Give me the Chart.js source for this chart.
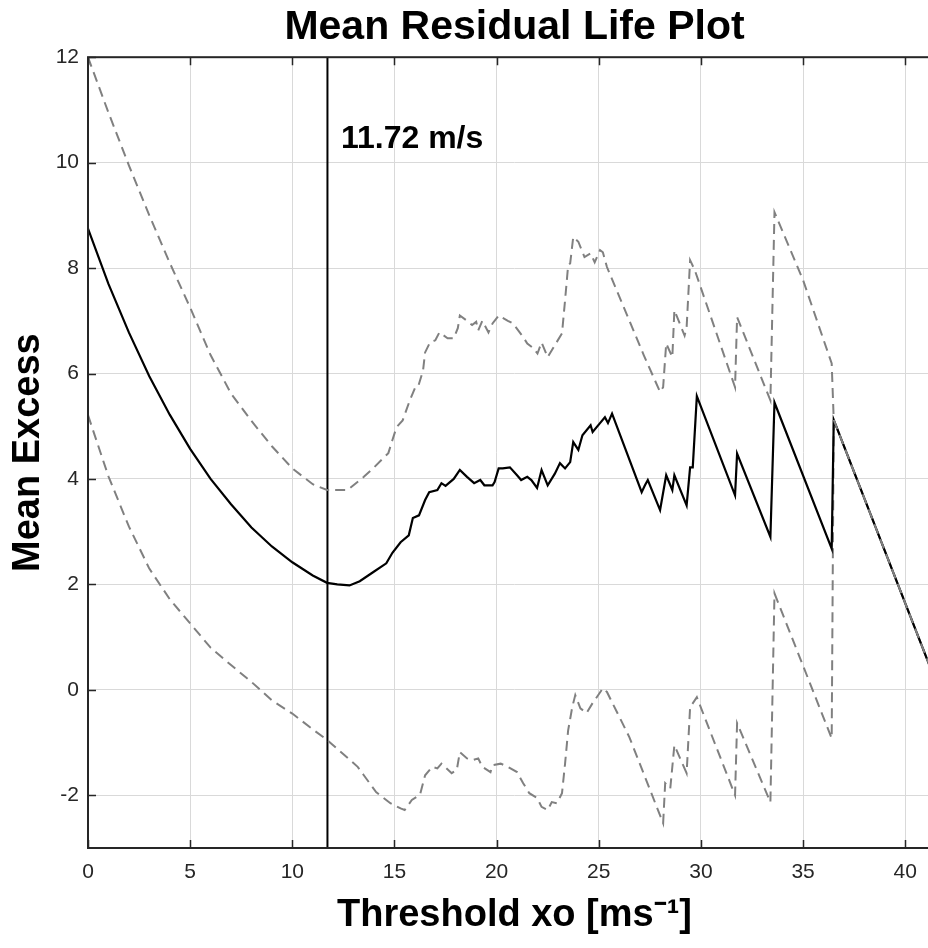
<!DOCTYPE html>
<html>
<head>
<meta charset="utf-8">
<title>Mean Residual Life Plot</title>
<script src="https://cdn.jsdelivr.net/npm/chart.js@4.4.1/dist/chart.umd.min.js"></script>
<style>
  html, body { margin: 0; padding: 0; overflow: hidden; background: #fff; }
  canvas { display: block; }
</style>
</head>
<body>
<canvas id="mrl" width="946" height="948"></canvas>
<script>
// threshold (x) and mean excess values
const meanX = [0, 1, 2, 3, 4, 5, 6, 7, 8, 9, 10, 11, 11.7, 12.2, 12.8, 13.3, 13.95, 14.6, 14.9, 15.3, 15.7, 15.9, 16.2, 16.5, 16.7, 17.1, 17.3, 17.5, 17.9, 18.2, 18.55, 18.9, 19.2, 19.4, 19.8, 19.9, 20.1, 20.3, 20.65, 21.0, 21.2, 21.5, 21.7, 21.98, 22.2, 22.5, 22.85, 23.1, 23.35, 23.6, 23.75, 24.0, 24.2, 24.6, 24.7, 25.06, 25.3, 25.45, 25.65, 27.1, 27.26, 27.4, 28.0, 28.3, 28.6, 28.7, 29.3, 29.47, 29.6, 29.8, 31.67, 31.77, 33.4, 33.6, 36.4, 36.5, 41.2];
const meanY = [8.75, 7.7, 6.78, 5.95, 5.22, 4.57, 4.0, 3.52, 3.08, 2.72, 2.42, 2.17, 2.03, 2.0, 1.98, 2.06, 2.23, 2.4, 2.6, 2.8, 2.93, 3.26, 3.31, 3.6, 3.75, 3.79, 3.92, 3.87, 4.0, 4.17, 4.04, 3.92, 3.98, 3.88, 3.88, 3.94, 4.2, 4.2, 4.22, 4.07, 3.98, 4.04, 3.98, 3.83, 4.17, 3.88, 4.1, 4.3, 4.2, 4.32, 4.7, 4.55, 4.83, 5.02, 4.89, 5.06, 5.17, 5.06, 5.24, 3.75, 3.88, 3.98, 3.41, 4.07, 3.79, 4.07, 3.5, 4.22, 4.22, 5.57, 3.69, 4.48, 2.9, 5.45, 2.68, 5.12, 0.45];

// upper confidence bound
const upperX = [0, 1, 2, 3, 4, 5, 6, 7, 8, 9, 10, 11, 11.7, 12.7, 13.5, 13.95, 14.7, 14.9, 15.1, 15.4, 15.75, 16.0, 16.15, 16.4, 16.5, 16.74, 17.0, 17.2, 17.6, 17.9, 18.1, 18.2, 18.55, 18.8, 19.0, 19.1, 19.3, 19.6, 19.8, 20.1, 20.55, 20.8, 21.3, 21.5, 21.8, 22.0, 22.2, 22.5, 22.9, 23.2, 23.35, 23.5, 23.6, 23.75, 24.0, 24.3, 24.6, 24.8, 25.06, 25.2, 25.4, 27.2, 28.0, 28.15, 28.3, 28.6, 28.7, 29.2, 29.3, 29.47, 29.7, 31.67, 31.77, 33.4, 33.6, 35.0, 36.4, 36.5, 41.2];
const upperY = [12.0, 10.95, 9.95, 9.0, 8.1, 7.25, 6.35, 5.62, 5.1, 4.62, 4.2, 3.9, 3.79, 3.79, 4.04, 4.2, 4.49, 4.74, 4.98, 5.11, 5.49, 5.72, 5.74, 6.06, 6.4, 6.59, 6.63, 6.78, 6.67, 6.67, 6.86, 7.1, 7.0, 6.92, 6.98, 6.82, 7.0, 6.78, 6.95, 7.1, 7.0, 6.95, 6.69, 6.57, 6.48, 6.38, 6.59, 6.31, 6.57, 6.76, 7.39, 8.05, 8.09, 8.59, 8.5, 8.21, 8.28, 8.11, 8.34, 8.3, 8.02, 6.35, 5.65, 5.74, 6.57, 6.31, 7.2, 6.72, 6.88, 8.15, 7.96, 5.74, 7.07, 5.49, 9.06, 7.77, 6.19, 5.12, 0.45];

// lower confidence bound
const lowerX = [0, 1, 2, 3, 4, 5, 6, 7, 8, 9, 10, 11, 11.7, 13.2, 13.5, 14.1, 14.8, 15.3, 15.5, 15.85, 16.25, 16.5, 16.85, 17.1, 17.3, 17.8, 18.05, 18.2, 18.55, 18.85, 19.1, 19.3, 19.7, 19.8, 20.2, 20.55, 21.0, 21.3, 21.6, 21.98, 22.2, 22.5, 22.7, 22.95, 23.2, 23.35, 23.5, 23.7, 23.85, 24.1, 24.4, 24.7, 24.9, 25.2, 25.4, 26.5, 28.15, 28.25, 28.5, 28.7, 29.3, 29.47, 29.8, 31.67, 31.77, 33.4, 33.6, 36.4, 36.5, 41.2];
const lowerY = [5.21, 4.05, 3.1, 2.3, 1.72, 1.26, 0.8, 0.47, 0.15, -0.2, -0.45, -0.75, -0.95, -1.46, -1.62, -1.94, -2.15, -2.25, -2.28, -2.09, -1.99, -1.62, -1.46, -1.49, -1.4, -1.58, -1.52, -1.18, -1.3, -1.33, -1.3, -1.46, -1.56, -1.43, -1.4, -1.46, -1.56, -1.77, -1.96, -2.05, -2.22, -2.28, -2.13, -2.15, -1.96, -1.4, -0.77, -0.33, -0.1, -0.35, -0.44, -0.25, -0.14, 0.03, -0.04, -0.9, -2.53, -1.77, -1.87, -1.05, -1.58, -0.33, -0.14, -2.0, -0.63, -2.13, 1.83, -0.92, 5.12, 0.45];

// chosen threshold
const thresholdValue = 11.72;
const thresholdLabel = thresholdValue + ' m/s';

const xTicks = [0, 5, 10, 15, 20, 25, 30, 35, 40];
const yTicks = [-2, 0, 2, 4, 6, 8, 10, 12];
const xRange = [0, 41.75];
const yRange = [-3, 12];

const FONT = 'Arial, "Liberation Sans", Helvetica, sans-serif';
const TEXT = '#262626';

function toPoints(xs, ys){
	return xs.map((x, i) => ({x: x, y: ys[i]}));
}

// MATLAB-like box with ticks pointing inwards, plus the threshold label
const boxPlugin = {
	id: 'box',
	afterDatasetsDraw(chart){
		const {ctx, chartArea: a, scales: {x, y}} = chart;
		const tl = 8;
		ctx.save();
		ctx.strokeStyle = TEXT;
		ctx.lineWidth = 2;
		ctx.strokeRect(a.left, a.top, a.right - a.left, a.bottom - a.top);
		ctx.lineWidth = 1.5;
		ctx.beginPath();
		xTicks.forEach(v => {
			const px = Math.round(x.getPixelForValue(v)) + 0.5;
			ctx.moveTo(px, a.bottom); ctx.lineTo(px, a.bottom - tl);
			ctx.moveTo(px, a.top); ctx.lineTo(px, a.top + tl);
		});
		yTicks.forEach(v => {
			const py = Math.round(y.getPixelForValue(v)) + 0.5;
			ctx.moveTo(a.left, py); ctx.lineTo(a.left + tl, py);
			ctx.moveTo(a.right, py); ctx.lineTo(a.right - tl, py);
		});
		ctx.stroke();

		ctx.fillStyle = '#000';
		ctx.font = 'bold 32px ' + FONT;
		ctx.textAlign = 'left';
		ctx.textBaseline = 'alphabetic';
		ctx.fillText(thresholdLabel, x.getPixelForValue(12.38), y.getPixelForValue(10.27));
		ctx.restore();
	}
};

const dashed = {
	borderColor: '#808080',
	borderWidth: 2,
	borderDash: [10, 6],
	pointRadius: 0,
	tension: 0,
	fill: false
};

new Chart(document.getElementById('mrl').getContext('2d'), {
	type: 'line',
	data: {
		datasets: [
			Object.assign({label: 'Upper', data: toPoints(upperX, upperY), order: 1}, dashed),
			{label: 'Mean Excess', data: toPoints(meanX, meanY), borderColor: '#000', borderWidth: 2.2,
				pointRadius: 0, tension: 0, fill: false, order: 2},
			Object.assign({label: 'Lower', data: toPoints(lowerX, lowerY), order: 3}, dashed),
			{label: 'Threshold', data: [{x: thresholdValue, y: yRange[0]}, {x: thresholdValue, y: yRange[1]}],
				borderColor: '#000', borderWidth: 2, pointRadius: 0, fill: false, order: 4}
		]
	},
	options: {
		responsive: false,
		animation: false,
		devicePixelRatio: 1,
		layout: { padding: { left: 0, right: 5, top: 0, bottom: 0 } },
		plugins: {
			legend: { display: false },
			tooltip: { enabled: false },
			title: {
				display: true,
				fullSize: false,
				text: 'Mean Residual Life Plot',
				color: '#000',
				font: { family: FONT, size: 41, weight: 'bold' },
				padding: { top: 3, bottom: 5 }
			}
		},
		scales: {
			x: {
				type: 'linear',
				min: xRange[0],
				max: xRange[1],
				afterBuildTicks: s => { s.ticks = xTicks.map(v => ({value: v})); },
				afterFit: s => { s.height = 100; },
				grid: { color: '#d9d9d9', lineWidth: 1, drawTicks: false },
				border: { display: false },
				ticks: { padding: 12, color: TEXT, font: { family: FONT, size: 21 } },
				title: {
					display: true,
					text: 'Threshold xo [ms\u207B\u00B9]',
					color: '#000',
					font: { family: FONT, size: 38, weight: 'bold' },
					padding: { top: 0, bottom: 10 }
				}
			},
			y: {
				type: 'linear',
				min: yRange[0],
				max: yRange[1],
				afterBuildTicks: s => { s.ticks = yTicks.map(v => ({value: v})); },
				afterFit: s => { s.width = 88; },
				grid: { color: '#d9d9d9', lineWidth: 1, drawTicks: false },
				border: { display: false },
				ticks: { padding: 9, color: TEXT, font: { family: FONT, size: 21 } },
				title: {
					display: true,
					text: 'Mean Excess',
					color: '#000',
					font: { family: FONT, size: 38, weight: 'bold' },
					padding: { top: 6, bottom: 0 }
				}
			}
		}
	},
	plugins: [boxPlugin]
});
</script>
</body>
</html>
